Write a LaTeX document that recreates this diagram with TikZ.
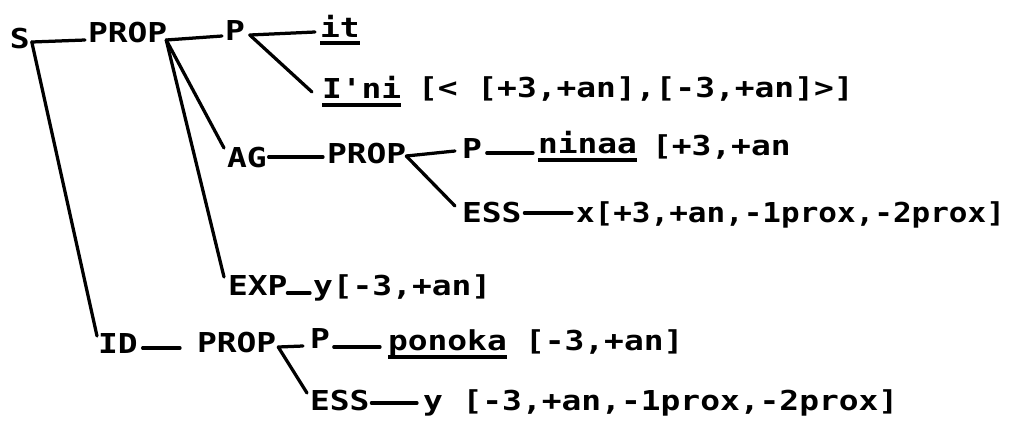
\documentclass[tikz,border=0pt]{standalone}
\usepackage{fontspec}
\newfontfamily\tw[FakeStretch=1.2,Ligatures=TeXOff]{DejaVu Sans Mono}
\newfontfamily\twn[FakeStretch=1.13,Ligatures=TeXOff]{DejaVu Sans Mono}
\usetikzlibrary{calc}
\tikzset{
  lbl/.style={inner sep=0pt, outer sep=0pt, anchor=base west,
    font=\tw\bfseries\fontsize{15.6}{18}\selectfont},
  lbln/.style={lbl, font=\twn\bfseries\fontsize{15.6}{18}\selectfont},
  conn/.style={line width=0.65mm, line cap=round, line join=round},
  ul/.style={line width=0.75mm, line cap=butt}
}
\begin{document}
\begin{tikzpicture}[x=0.2mm,y=-0.2mm]
\useasboundingbox (0,0) rectangle (1023,423);
% row 1
\node[lbl] (S) at (10,48) {S};
\node[lbl] (prop1) at (88,42) {PROP};
\node[lbl] (p1) at (225,40) {P};
\node[lbl] (it) at (320,37) {it};
% row 2
\node[lbl] (ini) at (322,98) {I'ni};
\node[lbl] (ininf) at (418,97) {[< [+3,+an],[-3,+an]>]};
% row 3
\node[lbl] (ag) at (227,167) {AG};
\node[lbl] (prop2) at (327,163) {PROP};
\node[lbl] (p2) at (462,158) {P};
\node[lbl] (ninaa) at (538,153) {ninaa};
\node[lbl] (ninf) at (652,155) {[+3,+an};
% row 4
\node[lbl] (ess1) at (462,222) {ESS};
\node[lbln] (x1) at (576,222) {x[+3,+an,-1prox,-2prox]};
% row 5
\node[lbl] (exp) at (228,295) {EXP};
\node[lbl] (y1) at (313,295) {y[-3,+an]};
% row 6
\node[lbl] (id) at (98,353) {ID};
\node[lbl] (prop3) at (197,352) {PROP};
\node[lbl] (p3) at (310,348) {P};
\node[lbl] (ponoka) at (388,350) {ponoka};
\node[lbl] (pinf) at (525,350) {[-3,+an]};
% row 7
\node[lbl] (ess2) at (310,410) {ESS};
\node[lbl] (y2) at (423,410) {y [-3,+an,-1prox,-2prox]};

% underlines
\draw[ul] ($(it.base west)+(0,6)$) -- ($(it.base east)+(0,6)$);
\draw[ul] ($(ini.base west)+(0,7)$) -- ($(ini.base east)+(0,7)$);
\draw[ul] ($(ninaa.base west)+(0,7)$) -- ($(ninaa.base east)+(0,7)$);
\draw[ul] ($(ponoka.base west)+(0,7)$) -- ($(ponoka.base east)+(0,7)$);

% connectors
\coordinate (jS) at ($(S.base east)+(2,-6)$);
\draw[conn] (jS) -- ($(prop1.base west)+(-3,-2)$);
\draw[conn] (jS) -- ($(id.base west)+(-1,-17)$);
\coordinate (j1) at ($(prop1.base east)+(-1,-2)$);
\draw[conn] (j1) -- ($(p1.base west)+(-3,-4)$);
\draw[conn] (j1) -- ($(ag.base west)+(-3,-19)$);
\draw[conn] (j1) -- ($(exp.base west)+(-4,-18)$);
\coordinate (jp1) at ($(p1.base east)+(5,-5)$);
\draw[conn] (jp1) -- ($(it.base west)+(-5,-5)$);
\draw[conn] (jp1) -- ($(ini.base west)+(-10,-6)$);
\draw[conn] ($(ag.base east)+(2,-10)$) -- ($(prop2.base west)+(-4,-6)$);
\coordinate (j2) at ($(prop2.base east)+(0,-7)$);
\draw[conn] (j2) -- ($(p2.base west)+(-7,-7)$);
\draw[conn] (j2) -- ($(ess1.base west)+(-7,-16)$);
\draw[conn] ($(p2.base east)+(5,-5)$) -- ($(ninaa.base west)+(-5,0)$);
\draw[conn] ($(ess1.base east)+(3,-9)$) -- ($(x1.base west)+(-4,-9)$);
\draw[conn] ($(exp.base east)+(0,-2)$) -- ($(y1.base west)+(-3,-2)$);
\draw[conn] ($(id.base east)+(5,-5)$) -- ($(prop3.base west)+(-17,-4)$);
\coordinate (j3) at ($(prop3.base east)+(2,-5)$);
\draw[conn] (j3) -- ($(p3.base west)+(-7,-2)$);
\draw[conn] (j3) -- ($(ess2.base west)+(-3,-17)$);
\draw[conn] ($(p3.base east)+(4,-1)$) -- ($(ponoka.base west)+(-8,-3)$);
\draw[conn] ($(ess2.base east)+(2,-7)$) -- ($(y2.base west)+(-6,-7)$);
\end{tikzpicture}
\end{document}
